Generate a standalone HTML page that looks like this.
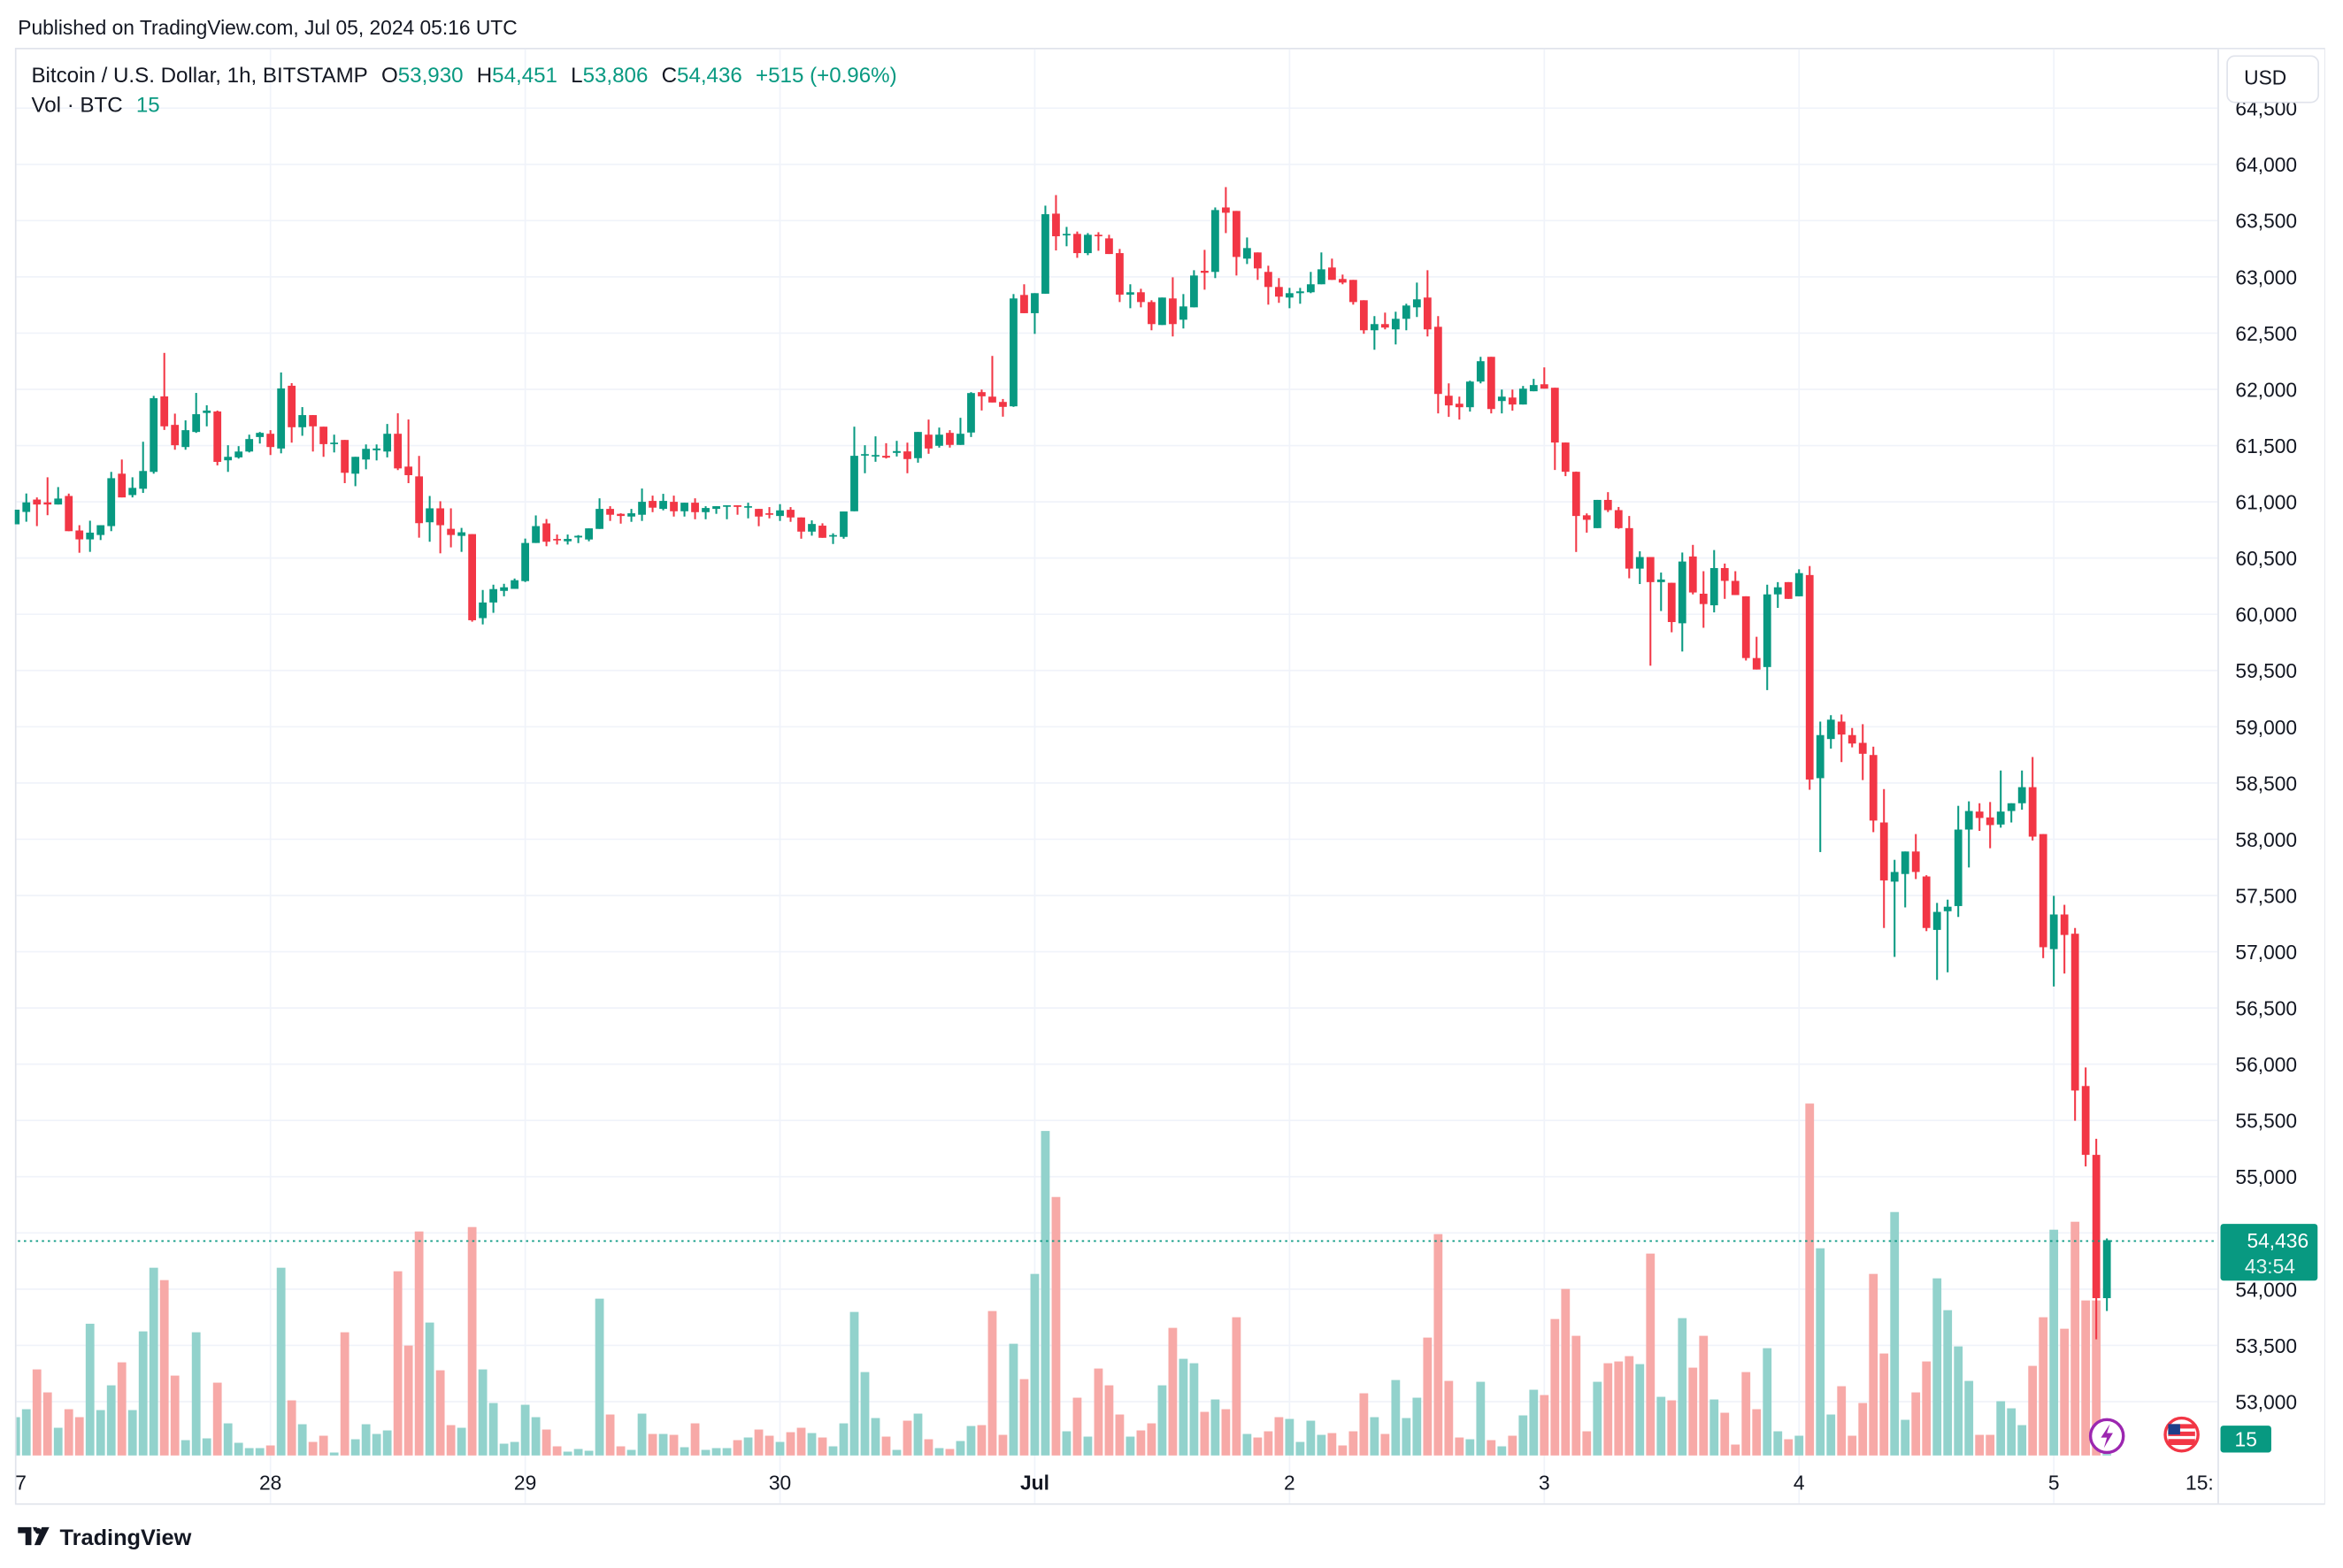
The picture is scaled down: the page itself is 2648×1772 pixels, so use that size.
<!DOCTYPE html>
<html><head><meta charset="utf-8">
<style>
html,body{margin:0;padding:0;background:#fff;}
svg{display:block;font-family:"Liberation Sans",Arial,sans-serif;}
</style></head>
<body>
<svg id="chart" xmlns="http://www.w3.org/2000/svg" width="2648" height="1772" viewBox="0 0 1568 1049.3" preserveAspectRatio="none">
  <rect x="0" y="0" width="1568" height="1049.3" fill="#ffffff"/>
  <text x="12" y="23" font-size="13.5" fill="#131722">Published on TradingView.com, Jul 05, 2024 05:16 UTC</text>
  <rect x="10.5" y="32.5" width="1545" height="974" fill="none" stroke="#e0e3eb" stroke-width="1"/>
  <g id="grid"></g>
  <g id="vol"></g>
  <g id="candles"></g>
  <line x1="12" x2="1484" y1="830.5" y2="830.5" stroke="#089981" stroke-width="1" stroke-dasharray="1.5 2.5"/>
  <rect x="1484" y="33" width="71.5" height="973" fill="#ffffff"/>
  <line x1="1484.5" x2="1484.5" y1="33" y2="1006" stroke="#e0e3eb"/>
  <g id="yticks"></g>
  <g id="xticks"></g>
  <rect x="1490.5" y="37.5" width="61" height="31" rx="5" fill="#fff" stroke="#e0e3eb"/>
  <text x="1516" y="56.5" font-size="13.5" fill="#131722" text-anchor="middle">USD</text>
  <rect x="1486" y="819" width="65" height="38" rx="2" fill="#089981"/>
  <text x="1545" y="835" font-size="13.5" fill="#ffffff" text-anchor="end">54,436</text>
  <text x="1536" y="852" font-size="13.5" fill="#e6f5f2" text-anchor="end">43:54</text>
  <rect x="1486" y="954" width="34" height="18" rx="2" fill="#089981"/>
  <text x="1503" y="968" font-size="13.5" fill="#ffffff" text-anchor="middle">15</text>
  <g>
    <circle cx="1410" cy="961" r="11" fill="#fff" stroke="#9c27b0" stroke-width="2"/>
    <path d="M1412 953 L1406 962 L1410 962 L1408 969 L1414 959 L1410 959 Z" fill="#9c27b0"/>
  </g>
  <g>
    <circle cx="1460" cy="960" r="11" fill="#fff" stroke="#f23645" stroke-width="2"/>
    <rect x="1451" y="953" width="18" height="14" fill="#f23645"/>
    <rect x="1451" y="956" width="18" height="2" fill="#fff"/>
    <rect x="1451" y="961" width="18" height="2" fill="#fff"/>
    <rect x="1451" y="953" width="8" height="7" fill="#1e3f8a"/>
  </g>
  <text x="21" y="55" font-size="14.3" fill="#131722">Bitcoin / U.S. Dollar, 1h, BITSTAMP<tspan dx="9">O</tspan><tspan fill="#089981">53,930</tspan><tspan dx="9">H</tspan><tspan fill="#089981">54,451</tspan><tspan dx="9">L</tspan><tspan fill="#089981">53,806</tspan><tspan dx="9">C</tspan><tspan fill="#089981">54,436</tspan><tspan dx="9" fill="#089981">+515 (+0.96%)</tspan></text>
  <text x="21" y="75" font-size="14.3" fill="#131722">Vol · BTC<tspan dx="9" fill="#089981">15</tspan></text>
  <g>
    <path d="M12 1022 h9 v12 h-4 v-8 h-5 z M22 1022 h3 l-2 3 z" fill="#131722"/>
    <circle cx="25.5" cy="1024.5" r="2" fill="#131722"/>
    <path d="M28 1022 h5 l-6 12 h-4 z" fill="#131722"/>
    <text x="40" y="1034" font-size="15" font-weight="bold" fill="#131722">TradingView</text>
  </g>
</svg>
<script>
const hours = [];
for (let h = -24; h <= 173; h++) hours.push(h);
const openP = [60800,60910,61020,60995,60976,61052,60745,60666,60705,60784,61250,61060,61116,61266,61937,61684,61487,61621,61790,61803,61369,61395,61447,61576,
61605,61474,62032,61663,61771,61668,61513,61550,61250,61376,61458,61447,61605,61313,61226,60818,60942,60760,60697,60713,59966,60105,60208,60226,
60295,60634,60808,60670,60649,60683,60665,60759,60937,60893,60869,60885,61008,60937,61000,60916,60992,60908,60937,60958,60969,60950,60937,60898,
60874,60929,60861,60735,60788,60691,60688,60916,61414,61406,61409,61435,61448,61388,61597,61498,61613,61506,61616,61975,61935,61888,61849,62839,
62677,62850,63562,63382,63382,63211,63374,63342,63211,62842,62863,62776,62572,62808,62619,62729,63054,63044,63617,63586,63162,63217,63044,62910,
62816,62855,62863,62934,63083,62981,62973,62792,62525,62580,62533,62627,62729,62816,62556,61943,61872,61841,62069,62289,61896,61927,61865,61983,62045,62014,61527,
61267,60880,60766,61017,60926,60766,60406,60509,60286,60280,59920,60514,60183,60080,60411,60297,60160,59611,59531,60177,60286,60160,
60349,58543,58891,59046,58926,58857,58749,58149,57623,57691,57891,57669,57194,57360,57406,58086,58246,58194,58131,58251,58320,58463,58046,
57023,57331,57160,55806,55194,53920];
const highP = [60930,61074,61039,61218,61131,61073,60792,60832,60792,61266,61376,61218,61534,61942,62324,61784,61724,61968,61858,61811,61503,61495,61597,61621,
61637,62150,62055,61842,61771,61668,61597,61550,61400,61510,61510,61692,61787,61732,61408,61052,61005,60942,60768,60713,60216,60263,60271,60318,
60673,60879,60847,60709,60709,60704,60764,61031,60961,60898,60937,61118,61055,61071,61055,60992,61031,60961,60961,60969,60969,60992,60937,60953,
60979,60953,60861,60835,60809,60720,60914,61668,61503,61582,61521,61542,61526,61621,61731,61660,61637,61747,61975,61998,62297,61914,62847,62934,
62855,63633,63727,63444,63403,63389,63397,63374,63248,62934,62894,62792,62816,62996,62847,63059,63240,63617,63798,63586,63350,63217,63099,62989,
62902,62902,63044,63217,63162,63020,62973,62792,62651,62682,62690,62761,62949,63059,62651,62053,61935,62077,62289,62289,61998,61998,62030,62093,62195,62014,61527,
61269,60897,61017,61086,60954,60874,60560,60509,60371,60280,60549,60617,60383,60571,60451,60383,60160,59800,60263,60286,60286,60400,
60429,59046,59103,59109,58989,59023,58823,58446,57817,57891,58046,57680,57434,57463,58297,58337,58320,58331,58611,58320,58611,58731,58046,
57497,57417,57211,55971,55337,54451];
const lowP = [60800,60823,60784,60881,60976,60739,60547,60555,60660,60739,61039,61039,61079,61250,61639,61463,61463,61613,61671,61324,61266,61384,61439,61518,
61416,61431,61526,61587,61447,61400,61439,61166,61139,61289,61368,61395,61282,61166,60681,60645,60542,60595,60555,59934,59910,60013,60160,60226,
60287,60634,60605,60620,60620,60633,60649,60759,60830,60806,60822,60830,60908,60924,60869,60869,60845,60845,60893,60845,60885,60853,60783,60853,
60830,60822,60672,60699,60680,60625,60672,60916,61254,61356,61385,61403,61254,61348,61427,61482,61482,61506,61576,61812,61883,61757,61844,62677,
62493,62850,63235,63272,63169,63193,63232,63203,62776,62721,62729,62525,62572,62470,62541,62729,62886,62989,63389,63012,63114,62973,62753,62769,
62721,62761,62855,62934,62973,62934,62753,62494,62352,62533,62399,62525,62643,62470,61786,61755,61731,61802,62053,61786,61786,61810,61865,61983,62006,61283,61228,
60554,60726,60766,60909,60760,60320,60269,59543,60029,59840,59669,60177,59880,60017,60137,60171,59589,59509,59326,60057,60137,60160,
58440,57886,58806,58686,58817,58526,58063,57211,56954,57394,57646,57183,56749,56817,57309,57749,58074,57920,58103,58149,58263,57989,56943,
56691,56806,55497,55091,53554,53806];
const closeP = [60930,60995,60976,60976,61029,60739,60666,60726,60792,61210,61039,61124,61274,61921,61671,61503,61637,61779,61811,61355,61400,61447,61558,61613,
61487,62008,61663,61771,61671,61513,61526,61258,61400,61471,61474,61605,61297,61237,60810,60942,60792,60705,60729,59947,60105,60224,60240,60303,
60634,60784,60645,60657,60670,60698,60764,60937,60885,60874,60898,61000,60948,61008,60916,60992,60908,60945,60961,60969,60955,60961,60869,60885,
60924,60861,60735,60803,60680,60704,60914,61409,61424,61416,61393,61451,61380,61621,61474,61597,61506,61605,61967,61938,61883,61844,62808,62677,
62855,63557,63361,63382,63211,63374,63361,63203,62842,62863,62776,62580,62816,62580,62737,63012,63036,63594,63570,63177,63256,63075,62910,62824,
62855,62871,62934,63067,62973,62949,62776,62525,62580,62549,62627,62745,62800,62533,61959,61857,61841,62069,62250,61825,61935,61865,62006,62038,62006,61527,61267,
60874,60840,61017,60926,60766,60406,60509,60286,60309,59931,60469,60194,60091,60411,60297,60171,59611,59509,60177,60240,60137,60366,
58531,58926,59063,58931,58851,58760,58166,57634,57709,57891,57709,57211,57354,57400,58086,58251,58189,58126,58246,58320,58463,58023,57040,
57331,57149,55766,55194,53920,54436];
const volumes = [130,157,292,214,94,157,130,447,154,238,316,154,421,637,595,271,52,418,58,247,109,43,25,25,
34,637,187,106,46,67,10,418,55,106,73,85,625,373,760,451,289,103,94,775,292,178,40,46,
172,130,88,31,13,22,16,532,139,31,19,142,73,73,70,28,109,19,25,25,52,61,88,67,
46,79,94,76,61,31,109,487,283,127,64,19,118,142,55,25,22,49,100,103,490,70,379,259,
616,1101,877,82,196,64,295,238,139,64,85,109,238,433,328,313,148,190,157,469,73,61,82,130,
124,46,118,70,76,34,82,211,130,73,256,127,196,400,751,253,61,55,250,52,31,67,136,223,205,463,565,
406,82,250,313,319,337,310,685,199,187,466,298,406,190,145,37,283,157,364,82,55,67,
1194,703,139,235,67,178,616,346,826,121,214,319,601,493,370,253,70,70,184,160,103,304,469,
766,430,793,526,526,5];
const priceTicks = [53000,53500,54000,54500,55000,55500,56000,56500,57000,57500,58000,58500,59000,59500,60000,60500,61000,61500,62000,62500,63000,63500,64000,64500];
const dayTicksH = [-24,0,24,48,72,96,120,144,168,183];
const dayTickLabels = ["7","28","29","30","Jul","2","3","4","5","15:"];

const NS = "http://www.w3.org/2000/svg";
function xOf(h){ return 181 + h * 7.104; }
function yOf(p){ return 110 + (64000 - p) * 0.07527; }
function vH(v){ return v / 5.07; }
const VOL_BASE = 974;
function mk(tag, attrs, parent){
  const e = document.createElementNS(NS, tag);
  for (const k in attrs) e.setAttribute(k, attrs[k]);
  parent.appendChild(e);
  return e;
}
const grid = document.getElementById('grid');
const yt = document.getElementById('yticks');
const xt = document.getElementById('xticks');
priceTicks.forEach(function(p){
  const y = yOf(p);
  const ln = mk('line', {x1: 11, x2: 1484, y1: y, y2: y, stroke: '#f0f3fa', 'stroke-width': 1}, grid);
  
  
  const t = mk('text', {x: 1496, y: y + 5, 'font-size': 13.5, fill: '#131722'}, yt);
  t.textContent = p.toLocaleString('en-US');
  
  
});
dayTicksH.forEach(function(h, i){
  const x = xOf(h);
  if (i > 0 && i < dayTicksH.length - 1) {
    const ln = mk('line', {x1: x, x2: x, y1: 33, y2: 1006, stroke: '#f0f3fa', 'stroke-width': 1}, grid);
    
    
  }
  const t = mk('text', {x: (i === 0 ? 14 : (i === dayTicksH.length - 1 ? 1472 : x)), y: 997, 'font-size': 13.5, fill: '#131722', 'text-anchor': 'middle'}, xt);
  if (dayTickLabels[i] === 'Jul') t.setAttribute('font-weight', 'bold');
  t.textContent = dayTickLabels[i];
  
  
});
const volG = document.getElementById('vol');
const cG = document.getElementById('candles');
hours.forEach(function(h, i){
  const x = xOf(h);
  const up = closeP[i] >= openP[i];
  const hh = vH(volumes[i]);
  const vb = mk('rect', {x: Math.max(11, x - 2.9), y: VOL_BASE - hh, width: (x - 2.9 < 11 ? x + 2.9 - 11 : 5.8), height: hh, fill: up ? '#92d2cc' : '#f7a9a7'}, volG);
  
  
  const col = up ? '#089981' : '#f23645';
  const wk = mk('rect', {x: x - 0.6, y: yOf(highP[i]), width: 1.2, height: Math.max(0.5, yOf(lowP[i]) - yOf(highP[i])), fill: col}, cG);
  
  
  const top = yOf(Math.max(openP[i], closeP[i]));
  const bot = yOf(Math.min(openP[i], closeP[i]));
  const bx = Math.max(11, x - 2.6);
  const bd = mk('rect', {x: bx, y: top, width: x + 2.6 - bx, height: Math.max(1, bot - top), fill: col}, cG);
  
  
});
</script>
</body></html>
